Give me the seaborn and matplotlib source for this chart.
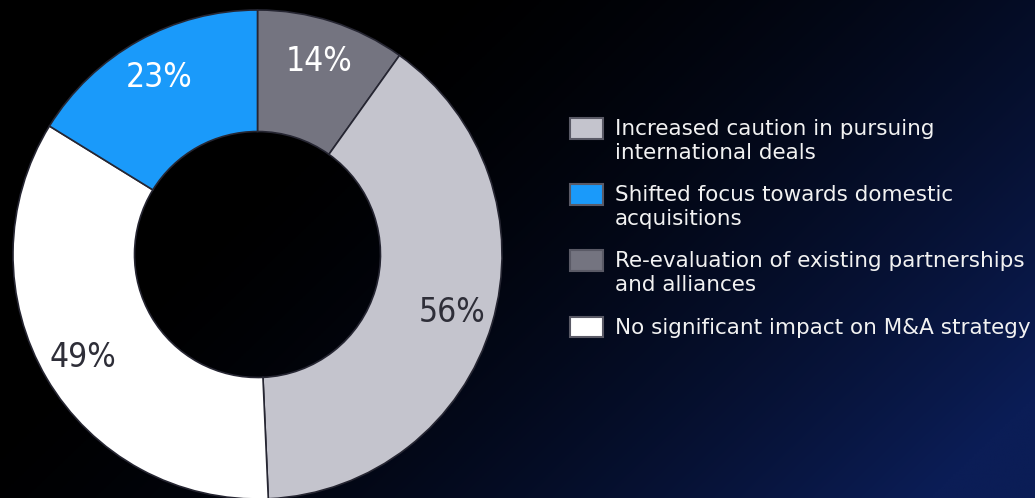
import numpy as np
import matplotlib
matplotlib.use("Agg")
import matplotlib.pyplot as plt
from matplotlib.colors import LinearSegmentedColormap
from matplotlib.legend_handler import HandlerPatch
from matplotlib.patches import Patch
import seaborn as sns

# Survey responses (multiple answers allowed, so shares exceed 100%)
categories = [
    "Increased caution in pursuing\ninternational deals",
    "Shifted focus towards domestic\nacquisitions",
    "Re-evaluation of existing partnerships\nand alliances",
    "No significant impact on M&A strategy",
]
shares = [56, 23, 14, 49]
palette = ["#C4C4CD", "#1A9AFA", "#747480", "#FFFFFF"]
label_colors = ["#2E2E38", "#FFFFFF", "#FFFFFF", "#2E2E38"]
# Clockwise order of the ring, starting at twelve o'clock
ring_order = [2, 0, 3, 1]

sns.set_style("white")
plt.rcParams["font.family"] = ["DejaVu Sans"]

fig = plt.figure(figsize=(10.35, 4.98), dpi=100)

# Dark background fading from black to deep navy towards the lower right
bg = fig.add_axes([0, 0, 1, 1], zorder=-10)
xx, yy = np.meshgrid(np.linspace(0, 1, 400), np.linspace(0, 1, 200))
u = 0.6 * (xx - 0.4) / 0.6 + 0.5 * yy
t = np.clip(u, 0, 1) ** 1.6
navy = LinearSegmentedColormap.from_list("navy", ["#000000", "#0B1D56"])
bg.imshow(t, cmap=navy, vmin=0, vmax=1, aspect="auto", extent=[0, 1, 0, 1],
          origin="upper", interpolation="bilinear")
bg.set_axis_off()

# Donut
W, H = 1035, 498
cx, cy, r = 257.5, 498 - 254.5, 244.5
ax = fig.add_axes([(cx - r) / W, (cy - r) / H, 2 * r / W, 2 * r / H])
ax.set_facecolor("none")
vals = [shares[i] for i in ring_order]
cols = [palette[i] for i in ring_order]
total = sum(shares)
wedges, _, autotexts = ax.pie(
    vals,
    colors=cols,
    startangle=90,
    counterclock=False,
    radius=1.0,
    autopct=lambda p: f"{round(p * total / 100)}%",
    pctdistance=0.83,
    wedgeprops=dict(width=0.497, edgecolor="#262632", linewidth=1.2),
    textprops=dict(fontsize=24, fontstretch="condensed"),
)
for txt, i in zip(autotexts, ring_order):
    txt.set_color(label_colors[i])
ax.set_xlim(-1, 1)
ax.set_ylim(-1, 1)
ax.set_aspect("equal")
ax.set_axis_off()


class FirstLinePatch(HandlerPatch):
    """Square handle lined up with the first line of a wrapped label."""

    def __init__(self, n_lines, step, **kw):
        super().__init__(**kw)
        self.n_lines = n_lines
        self.step = step

    def create_artists(self, legend, orig_handle, xdescent, ydescent,
                       width, height, fontsize, trans):
        arts = super().create_artists(legend, orig_handle, xdescent, ydescent,
                                      width, height, fontsize, trans)
        shift = 0.5 * (self.n_lines - 1) * self.step * fontsize
        for a in arts:
            a.set_y(a.get_y() + shift)
        return arts


handles = [Patch(facecolor=c, edgecolor="#5A5A66", linewidth=1.5) for c in palette]
legend_fs = 15.5
hmap = {h: FirstLinePatch(lab.count("\n") + 1, 1.25) for h, lab in zip(handles, categories)}
leg = fig.legend(
    handles, categories,
    loc="upper left",
    bbox_to_anchor=(570 / W, (H - 119) / H),
    frameon=False,
    fontsize=legend_fs,
    handlelength=1.53,
    handleheight=1.12,
    handletextpad=0.56,
    labelspacing=1.0,
    borderpad=0,
    borderaxespad=0,
    handler_map=hmap,
)
for t_ in leg.get_texts():
    t_.set_color("#F2F2F2")
    t_.set_linespacing(1.27)

fig.savefig("out.png", dpi=100)
